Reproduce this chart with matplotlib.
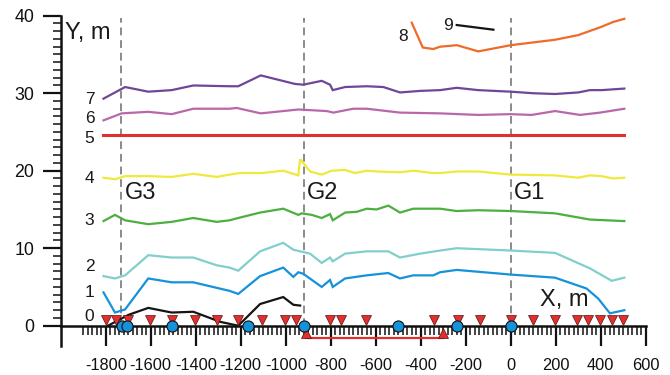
import numpy as np
import matplotlib
matplotlib.use("Agg")
import matplotlib.pyplot as plt

plt.rcParams['font.family'] = ['Liberation Sans', 'DejaVu Sans']

# profile lines, X in m, Y in m
x7 = [-1810, -1714, -1611, -1507, -1411, -1250, -1211, -1111, -959, -922, -840, -803, -791, -736, -640, -566, -492, -403, -314, -240, -144, 0, 100, 197, 300, 352, 404, 505]
y7 = [29.3, 30.8, 30.2, 30.4, 31.0, 30.9, 30.9, 32.3, 31.2, 31.1, 31.6, 31.1, 30.4, 30.8, 30.9, 30.8, 30.1, 30.3, 30.4, 30.7, 30.4, 30.2, 30.0, 29.9, 30.1, 30.4, 30.4, 30.6]

x6 = [-1810, -1729, -1611, -1507, -1411, -1250, -1218, -1111, -944, -818, -788, -700, -640, -492, -314, -144, 0, 93, 197, 308, 397, 505]
y6 = [26.5, 27.4, 27.6, 27.3, 28.0, 28.0, 28.1, 27.4, 27.9, 27.7, 27.5, 28.0, 28.0, 27.5, 27.4, 27.2, 27.3, 27.2, 27.7, 27.2, 27.5, 28.0]

x5 = [-1810, 505]
y5 = [24.6, 24.6]

x4 = [-1810, -1759, -1714, -1611, -1507, -1411, -1307, -1250, -1203, -1107, -1011, -944, -936, -922, -892, -840, -796, -736, -692, -640, -596, -492, -433, -344, -314, -240, -144, 0, 197, 300, 352, 404, 456, 505]
y4 = [19.1, 18.9, 19.3, 19.3, 19.2, 19.6, 19.2, 19.5, 19.7, 19.7, 20.0, 19.4, 21.5, 21.0, 19.9, 19.5, 20.0, 20.1, 19.7, 20.0, 19.9, 19.8, 20.0, 19.7, 19.7, 19.9, 19.9, 19.5, 19.4, 19.1, 19.4, 19.3, 19.0, 19.1]

x3 = [-1810, -1759, -1714, -1611, -1507, -1411, -1307, -1250, -1211, -1114, -1011, -944, -929, -884, -840, -803, -791, -736, -684, -640, -596, -544, -492, -433, -344, -314, -240, -144, 0, 197, 352, 505]
y3 = [13.5, 14.3, 13.6, 13.1, 13.4, 13.9, 13.4, 13.6, 13.9, 14.6, 15.1, 14.3, 14.5, 14.3, 13.9, 14.4, 13.6, 14.6, 14.7, 15.1, 15.0, 15.5, 14.6, 15.1, 15.1, 15.1, 14.8, 14.9, 14.8, 14.5, 13.7, 13.5]

x2 = [-1810, -1759, -1714, -1611, -1507, -1411, -1307, -1250, -1211, -1114, -1011, -966, -936, -892, -840, -803, -791, -736, -640, -544, -492, -403, -314, -240, 0, 197, 352, 449, 505]
y2 = [6.4, 6.1, 6.5, 9.1, 8.8, 8.8, 7.8, 7.5, 7.1, 9.6, 10.7, 9.8, 9.6, 9.3, 8.1, 8.8, 8.3, 9.3, 9.6, 9.6, 8.8, 9.3, 9.7, 10.0, 9.7, 9.4, 7.4, 5.8, 6.2]

x1 = [-1810, -1759, -1714, -1611, -1507, -1411, -1250, -1211, -1114, -1011, -966, -944, -922, -840, -803, -791, -736, -640, -544, -492, -433, -344, -314, -240, 0, 197, 337, 389, 441, 505]
y1 = [4.3, 1.7, 2.1, 6.1, 5.6, 5.6, 4.5, 4.1, 6.4, 7.5, 6.3, 6.9, 6.7, 5.0, 5.9, 5.0, 6.1, 6.5, 6.8, 6.1, 6.5, 6.5, 6.9, 7.2, 6.6, 6.2, 4.8, 3.5, 1.6, 2.0]

x0 = [-1790, -1699, -1611, -1507, -1411, -1291, -1211, -1114, -1011, -966, -936]
y0 = [0.0, 1.4, 2.3, 1.7, 1.8, 0.5, 0.0, 2.8, 3.7, 2.7, 2.6]

x8 = [-440, -391, -344, -314, -240, -144, 0, 197, 300, 397, 456, 505]
y8 = [39.1, 35.9, 35.7, 36.0, 36.2, 35.4, 36.2, 36.9, 37.5, 38.5, 39.2, 39.6]

x9 = [-240, -77]
y9 = [38.8, 38.2]

# stations along the profile
tri_down = [-1800, -1755, -1700, -1605, -1505, -1405, -1305, -1210, -1105, -1005, -955, -803, -753, -643, -342, -235, -138, 0, 98, 197, 295, 345, 397, 450, 500]
tri_up = [-910, -303]
wells = [-1729, -1707, -1507, -1166, -920, -503, -238, 0]

g_names = ["G3", "G2", "G1"]
g_x = [-1733, -920, 0]

line_names = ["0", "1", "2", "3", "4", "5", "6", "7"]
line_label_y = [1.2, 4.3, 7.7, 13.6, 19.0, 24.2, 26.8, 29.2]

xtick_vals = list(range(-1800, 601, 200))
xtick_labels = [str(v) for v in xtick_vals]
ytick_vals = [0, 10, 20, 30, 40]


fig = plt.figure(figsize=(6.7, 3.75), dpi=100)
ax = fig.add_axes([0, 0, 1, 1])
ax.set_xlim(-2270, 708)
ax.set_ylim(-6.36, 42.03)

profiles = [
    (x7, y7, "#6F4797", 1.6),
    (x6, y6, "#B868A9", 1.6),
    (x5, y5, "#E0302E", 2.2),
    (x4, y4, "#EFE93C", 1.6),
    (x3, y3, "#4DAF3F", 1.6),
    (x2, y2, "#80CFCB", 1.6),
    (x1, y1, "#1692DA", 1.6),
    (x0, y0, "#151515", 1.6),
    (x8, y8, "#EE6B2B", 1.6),
    (x9, y9, "#151515", 1.6),
]
for xs, ys, c, lw in profiles:
    ax.plot(xs, ys, color=c, lw=lw, zorder=3, solid_joinstyle='miter')

for gx, name in zip(g_x, g_names):
    ax.plot([gx, gx], [0, 39.7], color="#8A8A8A", lw=1.4, ls=(0, (4, 2.5)), zorder=2)
    ax.text(gx + 16, 17.1, name, fontsize=17, va='center', ha='left', color="#1a1a1a")

for name, ly in zip(line_names, line_label_y):
    ax.text(-1872, ly, name, fontsize=12.5, ha='center', va='center', color="#1a1a1a")
ax.text(-479, 37.3, "8", fontsize=12.5, ha='center', va='center', color="#1a1a1a")
ax.text(-279, 38.8, "9", fontsize=12.5, ha='center', va='center', color="#1a1a1a")

ax.text(-1983, 37.8, "Y, m", fontsize=17, ha='left', va='center', color="#1a1a1a")
ax.text(128, 3.3, "X, m", fontsize=17, ha='left', va='center', color="#1a1a1a")

# survey interval below the axis
ax.plot(tri_up, [-1.6, -1.6], color="#E0302E", lw=1.6, zorder=2)
ax.plot(tri_up, [-0.95] * len(tri_up), ls='none', marker='^', ms=7.5,
        mfc="#E0302E", mec="#5a1010", mew=0.5, zorder=5)

ax.plot(tri_down, [0.75] * len(tri_down), ls='none', marker='v', ms=7.5,
        mfc="#E0302E", mec="#5a1010", mew=0.5, zorder=5)
ax.plot(wells, [0] * len(wells), ls='none', marker='o', ms=8,
        mfc="#1692DA", mec="#111111", mew=0.8, zorder=6)

for side in ['top', 'right']:
    ax.spines[side].set_visible(False)
ax.spines['bottom'].set_position(('data', 0))
ax.spines['left'].set_position(('data', -2000))
ax.spines['bottom'].set_bounds(-2000, 600)
ax.spines['left'].set_bounds(-2.6, 40)
for side in ['bottom', 'left']:
    ax.spines[side].set_linewidth(1.8)
    ax.spines[side].set_color("#111111")
    ax.spines[side].set_zorder(4)

ax.set_xticks(xtick_vals, xtick_labels)
ax.set_xticks(np.arange(-1900, 601, 20), minor=True)
ax.set_yticks(ytick_vals, [str(v) for v in ytick_vals])
ax.set_yticks(np.arange(0, 41, 1), minor=True)

ax.tick_params(axis='x', which='major', direction='out', length=14.5, width=1.6,
               labelsize=11.8, pad=9, colors="#111111")
ax.tick_params(axis='x', which='minor', direction='out', length=6.5, width=1.1, colors="#111111")
ax.tick_params(axis='y', which='major', direction='out', length=13, width=1.6,
               labelsize=12.8, pad=6, colors="#111111")
ax.tick_params(axis='y', which='minor', direction='out', length=5.8, width=1.1, colors="#111111")

ax.patch.set_visible(False)
fig.savefig("out.png", dpi=100)
